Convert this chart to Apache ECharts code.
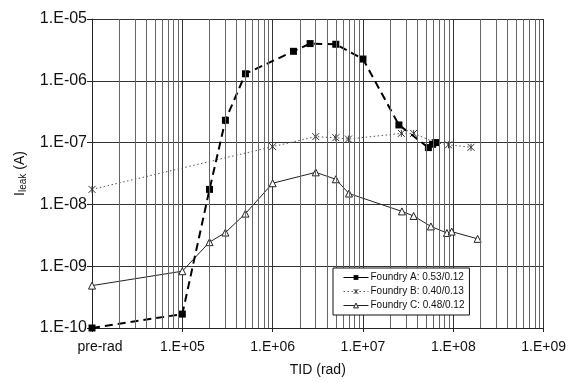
<!DOCTYPE html>
<html>
<head>
<meta charset="utf-8">
<script src="https://cdn.jsdelivr.net/npm/echarts@6/dist/echarts.min.js"></script>
<style>
html,body{margin:0;padding:0;background:#fff;}
#c{width:569px;height:382px;}
</style>
</head>
<body>
<div id="c"></div>
<script>
// ---- data ----
var seriesNames = ['Foundry A: 0.53/0.12', 'Foundry B: 0.40/0.13', 'Foundry C: 0.48/0.12'];
// x = 1e4 stands for "pre-rad"
var doseA = [1e4, 1e5, 2e5, 3e5, 5e5, 1.7e6, 2.6e6, 5e6, 1e7, 2.5e7, 5.3e7, 5.9e7, 6.4e7];
var leakA = [1.0e-10, 1.68e-10, 1.75e-8, 2.3e-7, 1.3e-6, 3.0e-6, 4.0e-6, 3.9e-6, 2.25e-6, 1.93e-7, 8.3e-8, 9.4e-8, 1.0e-7];
var doseB = [1e4, 1e6, 3e6, 5e6, 6.9e6, 2.66e7, 3.64e7, 6.3e7, 8.85e7, 1.57e8];
var leakB = [1.75e-8, 8.6e-8, 1.25e-7, 1.2e-7, 1.14e-7, 1.41e-7, 1.41e-7, 1.0e-7, 9.2e-8, 8.4e-8];
var doseC = [1e4, 1e5, 2e5, 3e5, 5e5, 1e6, 3e6, 5e6, 7e6, 2.7e7, 3.64e7, 5.65e7, 8.5e7, 9.6e7, 1.86e8];
var leakC = [4.85e-10, 8.3e-10, 2.45e-9, 3.5e-9, 7.1e-9, 2.2e-8, 3.3e-8, 2.55e-8, 1.5e-8, 7.7e-9, 6.5e-9, 4.4e-9, 3.45e-9, 3.63e-9, 2.77e-9];
var xMin = 1e4, xMax = 1e9, yMin = 1e-10, yMax = 1e-5;
var preRadLabel = 'pre-rad';

function pairs(xs, ys) { return xs.map(function (x, i) { return [x, ys[i]]; }); }

// minor vertical grid lines (2..9 x 10^n)
var minorLines = [];
for (var e = 4; e < 9; e++) {
  for (var m = 2; m <= 9; m++) minorLines.push({ xAxis: m * Math.pow(10, e) });
}

var styleA = { line: { color: '#000', width: 2, type: [8, 5] }, item: { color: '#000' } };
var styleB = { line: { color: '#555', width: 1, type: [1.5, 2.5] }, item: { color: 'rgba(0,0,0,0)', borderColor: '#333', borderWidth: 1 } };
var styleC = { line: { color: '#222', width: 1, type: 'solid' }, item: { color: '#fff', borderColor: '#222', borderWidth: 1 } };

var FONT = 'Liberation Sans, Arial, sans-serif';
var chart = echarts.init(document.getElementById('c'), null, { renderer: 'canvas' });
chart.setOption({
  animation: false,
  backgroundColor: '#fff',
  textStyle: { fontFamily: FONT, color: '#111' },
  grid: { left: 92, right: 23, top: 19, bottom: 50, show: false },
  legend: {
    z: 20,
    data: [
      { name: seriesNames[0], itemStyle: { color: '#000', borderWidth: 0 }, lineStyle: { type: 'solid', width: 1, color: '#000' } },
      { name: seriesNames[1], itemStyle: styleB.item, lineStyle: { type: [1.5, 2.5], width: 1, color: '#555' } },
      { name: seriesNames[2], itemStyle: { color: '#fff', borderColor: '#222', borderWidth: 1 }, lineStyle: { type: 'solid', width: 1, color: '#222' } }
    ],
    orient: 'vertical',
    left: 333, top: 268,
    backgroundColor: '#fff',
    borderColor: '#111', borderWidth: 1, borderRadius: 0,
    padding: [4, 5, 4, 10],
    itemWidth: 25, itemHeight: 6, itemGap: 3,
    textStyle: { fontFamily: FONT, fontSize: 10, color: '#111', padding: [0, 0, 0, -3], lineHeight: 11 }
  },
  xAxis: {
    type: 'log', logBase: 10, min: xMin, max: xMax,
    name: 'TID (rad)', nameLocation: 'middle', nameGap: 35,
    nameTextStyle: { fontFamily: FONT, fontSize: 14, color: '#111' },
    axisLine: { show: true, lineStyle: { color: '#222', width: 1 } },
    axisTick: { show: true, inside: false, length: 4, lineStyle: { color: '#222' } },
    axisLabel: {
      margin: 12, fontFamily: FONT, fontSize: 14, color: '#111',
      formatter: function (v) {
        var ex = Math.round(Math.log10(v));
        if (ex === 4) return '{p|' + preRadLabel + '}';
        return '1.E+' + (ex < 10 ? '0' : '') + ex;
      },
      rich: { p: { fontFamily: FONT, fontSize: 14, color: '#111', padding: [0, 0, 0, 16] } }
    },
    splitLine: { show: true, lineStyle: { color: '#333', width: 1 } }
  },
  yAxis: {
    type: 'log', logBase: 10, min: yMin, max: yMax,
    name: '{a|I}{b|leak}{a| (A)}', nameLocation: 'middle', nameGap: 64,
    nameTextStyle: {
      rich: {
        a: { fontFamily: FONT, fontSize: 14, color: '#111' },
        b: { fontFamily: FONT, fontSize: 10, color: '#111', verticalAlign: 'bottom', padding: [6, 0, 0, 0] }
      }
    },
    axisLine: { show: true, lineStyle: { color: '#222', width: 1 } },
    axisTick: { show: true, inside: false, length: 5, lineStyle: { color: '#222' } },
    axisLabel: {
      margin: 5, fontFamily: FONT, fontSize: 16, color: '#111',
      formatter: function (v) {
        var ex = Math.round(Math.log10(v));
        var a = Math.abs(ex);
        return '1.E' + (ex < 0 ? '-' : '+') + (a < 10 ? '0' : '') + a;
      }
    },
    splitLine: { show: true, lineStyle: { color: '#333', width: 1 } }
  },
  series: [
    {
      name: 'minor', type: 'line', data: [], z: 1, silent: true,
      markLine: {
        silent: true, symbol: ['none', 'none'], label: { show: false },
        lineStyle: { color: '#666', width: 1, type: 'solid' },
        emphasis: { disabled: true },
        animation: false,
        data: minorLines
      }
    },
    {
      name: seriesNames[0], type: 'line', z: 4,
      data: pairs(doseA, leakA),
      symbol: 'rect', symbolSize: 7,
      lineStyle: styleA.line,
      itemStyle: styleA.item
    },
    {
      name: seriesNames[1], type: 'line', z: 3,
      data: pairs(doseB, leakB),
      symbol: 'path://M0,0L10,10M10,0L0,10M5,0L5,10', symbolSize: 7,
      lineStyle: styleB.line,
      itemStyle: styleB.item
    },
    {
      name: seriesNames[2], type: 'line', z: 3,
      data: pairs(doseC, leakC),
      symbol: 'triangle', symbolSize: 7,
      lineStyle: styleC.line,
      itemStyle: styleC.item
    }
  ]
});
</script>
</body>
</html>
